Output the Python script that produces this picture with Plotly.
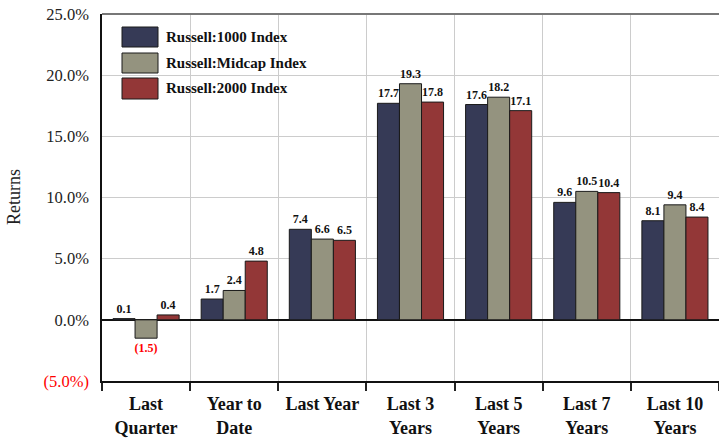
import plotly.graph_objects as go

categories = ["Last<br>Quarter", "Year to<br>Date", "Last Year", "Last 3<br>Years",
              "Last 5<br>Years", "Last 7<br>Years", "Last 10<br>Years"]
series_names = ["Russell:1000 Index", "Russell:Midcap Index", "Russell:2000 Index"]
russell_1000 = [0.1, 1.7, 7.4, 17.7, 17.6, 9.6, 8.1]
russell_midcap = [-1.5, 2.4, 6.6, 19.3, 18.2, 10.5, 9.4]
russell_2000 = [0.4, 4.8, 6.5, 17.8, 17.1, 10.4, 8.4]
colors = ["#363a56", "#94937f", "#933737"]
y_ticks = [-5, 0, 5, 10, 15, 20, 25]

W, H = 719, 438
L, R, T, B = 102, 0, 14, 438 - 381
PW, PH = W - L - R, H - T - B


def fmt(v):
    return f"{v:.1f}" if v >= 0 else f"({abs(v):.1f})"


def px_to_paper(x, y):
    # pixel -> paper coords of the plot area
    return (x - L) / PW, 1 - (y - T) / PH


fig = go.Figure()
for name, vals, col in zip(series_names, [russell_1000, russell_midcap, russell_2000], colors):
    fig.add_trace(go.Bar(
        x=categories, y=vals, name=name,
        marker=dict(color=col, line=dict(color="#1a1a1a", width=1)),
        text=[fmt(v) for v in vals],
        textposition="outside",
        constraintext="none",
        cliponaxis=False,
        textfont=dict(family="Liberation Serif", size=12, weight="bold",
                      color=["red" if v < 0 else "#111" for v in vals]),
        showlegend=False,
    ))

ticktext = []
for t in y_ticks:
    if t < 0:
        ticktext.append(f"<span style='color:red'>({abs(t):.1f}%)</span>")
    else:
        ticktext.append(f"{t:.1f}%")

fig.update_layout(
    width=W, height=H,
    margin=dict(l=L, r=R, t=T, b=B, autoexpand=False),
    plot_bgcolor="white", paper_bgcolor="white",
    barmode="group", bargap=0.25, bargroupgap=0,
    font=dict(family="Liberation Serif", color="#222"),
)
fig.update_xaxes(
    tickson="boundaries", showgrid=True, gridcolor="#cccccc", gridwidth=1,
    ticks="outside", ticklen=8, tickcolor="#222", tickwidth=1.5,
    showline=True, linecolor="#111", linewidth=1.5,
    ticklabelstandoff=6, automargin=False,
    tickfont=dict(family="Liberation Serif", size=18, weight="bold", color="#111"),
)
fig.update_yaxes(
    range=[-5, 25], tickvals=y_ticks, ticktext=ticktext,
    showgrid=True, gridcolor="#cccccc", gridwidth=1,
    zeroline=True, zerolinecolor="#111", zerolinewidth=1.5,
    showline=True, linecolor="#111", linewidth=1.5,
    ticklabelstandoff=8, automargin=False, ticklabeloverflow="allow",
    tickfont=dict(family="Liberation Serif", size=16.5, color="#222"),
)

# y axis title
tx, ty = px_to_paper(14, 197)
fig.add_annotation(xref="paper", yref="paper", x=tx, y=ty, text="Returns", textangle=-90,
                   showarrow=False, xanchor="center", yanchor="middle",
                   font=dict(family="Liberation Serif", size=18, color="#222"))

# top border
fig.add_shape(type="line", xref="paper", yref="paper", x0=0, x1=1, y0=1, y1=1,
              line=dict(color="#777777", width=2))

# legend drawn as swatches + labels
swatch_rows = [(27, 47), (53, 73), (78, 99)]
for (y0p, y1p), name, col in zip(swatch_rows, series_names, colors):
    x0, ya = px_to_paper(122, y0p)
    x1, yb = px_to_paper(158, y1p)
    fig.add_shape(type="rect", xref="paper", yref="paper", x0=x0, x1=x1, y0=yb, y1=ya,
                  fillcolor=col, line=dict(color="#1a1a1a", width=1))
    lx, ly = px_to_paper(164, (y0p + y1p) / 2)
    fig.add_annotation(xref="paper", yref="paper", x=lx, y=ly, text=name,
                       showarrow=False, xanchor="left", yanchor="middle",
                       font=dict(family="Liberation Serif", size=15, weight="bold", color="#111"))

# drop the default body margin so the figure sits at the window origin
fig.write_html("out.html", config={"displayModeBar": False},
               post_script="document.body.style.margin='0';")
